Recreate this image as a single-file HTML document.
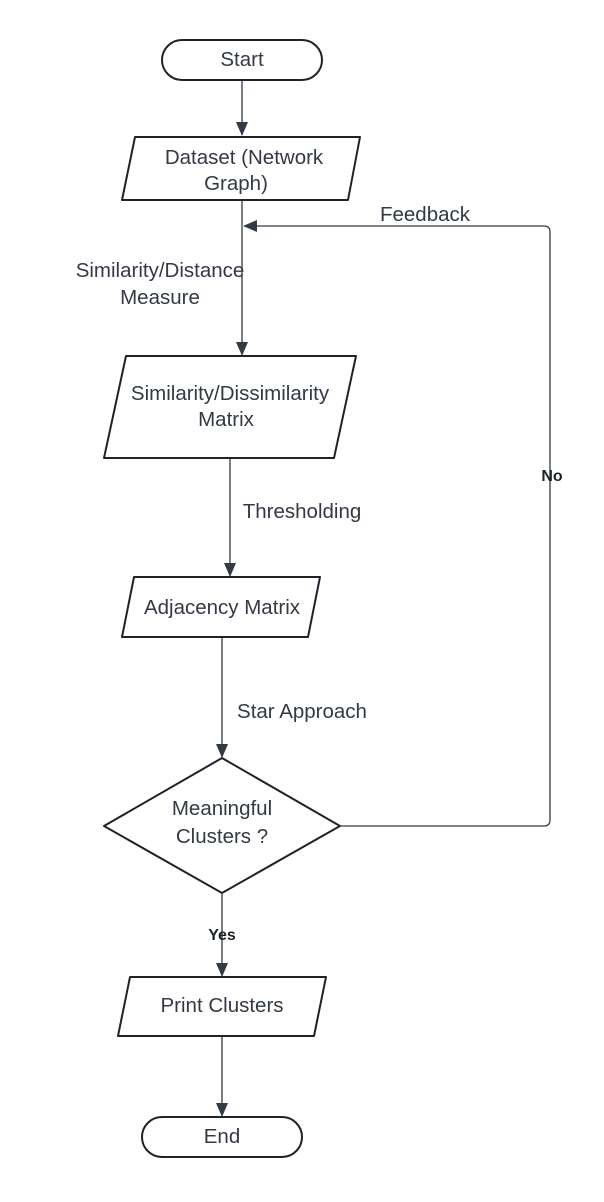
<!DOCTYPE html>
<html><head><meta charset="utf-8"><style>html,body{margin:0;padding:0;background:#fff}</style></head>
<body>
<svg width="604" height="1197" viewBox="0 0 604 1197" xmlns="http://www.w3.org/2000/svg" font-family="Liberation Sans, sans-serif">
<defs>
<marker id="a" markerWidth="14" markerHeight="12" refX="13" refY="6" orient="auto" markerUnits="userSpaceOnUse">
<path d="M0,0 L14,6 L0,12 z" fill="#333a45"/></marker>
</defs>
<g fill="#fff" stroke="#1e2329" stroke-width="2" stroke-linejoin="round">
<rect x="162" y="40" width="160" height="40" rx="20"/>
<path d="M135,137 L360,137 L348,200 L122,200 Z"/>
<path d="M126,356 L356,356 L334,458 L104,458 Z"/>
<path d="M134,577 L320,577 L308,637 L122,637 Z"/>
<path d="M222,758 L340,826 L222,893 L104,826 Z"/>
<path d="M130,977 L326,977 L314,1036 L118,1036 Z"/>
<rect x="142" y="1117" width="160" height="40" rx="20"/>
</g>
<g stroke="#333a45" stroke-width="1.3" fill="none">
<line x1="242" y1="81" x2="242" y2="135" marker-end="url(#a)"/>
<line x1="242" y1="201" x2="242" y2="355" marker-end="url(#a)"/>
<path d="M341,826 L544,826 Q550,826 550,820 L550,232 Q550,226 544,226 L244,226" marker-end="url(#a)"/>
<line x1="230" y1="459" x2="230" y2="576" marker-end="url(#a)"/>
<line x1="222" y1="638" x2="222" y2="757" marker-end="url(#a)"/>
<line x1="222" y1="894" x2="222" y2="976" marker-end="url(#a)"/>
<line x1="222" y1="1037" x2="222" y2="1116" marker-end="url(#a)"/>
</g>
<g fill="#333a45" font-size="20.5" text-anchor="middle">
<text x="242" y="66">Start</text>
<text x="244" y="164">Dataset (Network</text>
<text x="236" y="190">Graph)</text>
<text x="230" y="400">Similarity/Dissimilarity</text>
<text x="226" y="426">Matrix</text>
<text x="222" y="614">Adjacency Matrix</text>
<text x="222" y="815">Meaningful</text>
<text x="222" y="843">Clusters ?</text>
<text x="222" y="1012">Print Clusters</text>
<text x="222" y="1143">End</text>
<text x="160" y="277">Similarity/Distance</text>
<text x="160" y="304">Measure</text>
<text x="425" y="221">Feedback</text>
<text x="302" y="518">Thresholding</text>
<text x="302" y="718">Star Approach</text>
</g>
<g fill="#1e2329" font-size="16" font-weight="bold" text-anchor="middle">
<text x="552" y="481">No</text>
<text x="222" y="940">Yes</text>
</g>
</svg>
</body></html>
